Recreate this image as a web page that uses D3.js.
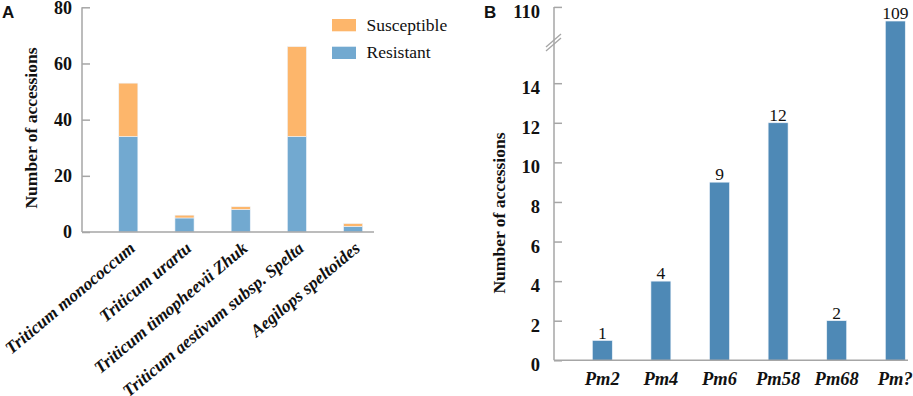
<!DOCTYPE html>
<html>
<head>
<meta charset="utf-8">
<script src="https://cdn.jsdelivr.net/npm/d3@7"></script>
<style>
  body { margin: 0; background: #fff; }
  svg { display: block; }
  text { font-family: "Liberation Serif", "Times New Roman", serif; fill: #111; }
</style>
</head>
<body>
<div id="chart"></div>
<script>
// Panel A data : accessions per species, stacked resistant / susceptible
const species = ["Triticum monococcum", "Triticum urartu", "Triticum timopheevii Zhuk",
                 "Triticum aestivum subsp. Spelta", "Aegilops speltoides"];
const resistant = [34, 5, 8, 34, 2];
const susceptible = [19, 1, 1, 32, 1];
const ticksA = [0, 20, 40, 60, 80];

// Panel B data : accessions per Pm gene
const genes = ["Pm2", "Pm4", "Pm6", "Pm58", "Pm68", "Pm?"];
const counts = [1, 4, 9, 12, 2, 109];
const ticksLowB = [0, 2, 4, 6, 8, 10, 12, 14];
const ticksHighB = [110];

const W = 913, H = 396;
const axisColor = "#a6a6a6";
const colRes = "#72a9d0", colSus = "#fdb66b", colB = "#4e89b6";

const svg = d3.select("#chart").append("svg")
    .attr("width", W).attr("height", H);

// ---------- Panel A ----------
const gA = svg.append("g");
const yA = d3.scaleLinear().domain([0, 80]).range([232, 7.3]);
const xA = d3.scaleBand().domain(species).range([100.2, 381.2])
    .paddingInner(0.66).paddingOuter(0.33);

// stacked bars
const stackData = species.map((s, i) => ({ name: s, Resistant: resistant[i], Susceptible: susceptible[i] }));
const series = d3.stack().keys(["Resistant", "Susceptible"])(stackData);
const colA = { Resistant: colRes, Susceptible: colSus };

series.forEach(sr => {
    gA.selectAll(null).data(sr).enter().append("rect")
        .attr("x", d => xA(d.data.name))
        .attr("width", xA.bandwidth())
        .attr("y", d => yA(d[1]))
        .attr("height", d => yA(d[0]) - yA(d[1]))
        .attr("fill", colA[sr.key])
        .attr("stroke", "#eef4fa")
        .attr("stroke-width", 0.6);
});

// y axis (ticks inward)
const axA = gA.append("g").attr("transform", "translate(82,0)")
    .call(d3.axisRight(yA).tickValues(ticksA).tickSize(8).tickFormat(""));
axA.select(".domain").remove();
axA.selectAll("line").attr("stroke", axisColor).attr("stroke-width", 1.5);
gA.append("line").attr("x1", 82).attr("x2", 82).attr("y1", yA(80)).attr("y2", yA(0))
    .attr("stroke", axisColor).attr("stroke-width", 1.5);
gA.append("line").attr("x1", 82).attr("x2", 374).attr("y1", yA(0)).attr("y2", yA(0))
    .attr("stroke", axisColor).attr("stroke-width", 1.5);

gA.selectAll(".tlA").data(ticksA).enter().append("text")
    .attr("x", 72).attr("y", d => yA(d)).attr("dy", "0.36em")
    .attr("text-anchor", "end").attr("font-size", 18).attr("font-weight", "bold")
    .text(d => d);

// x labels, rotated
gA.selectAll(".xlA").data(species).enter().append("text")
    .attr("transform", d => `translate(${xA(d) + xA.bandwidth() / 2 + 8},250) rotate(-40)`)
    .attr("text-anchor", "end").attr("font-size", 17.5)
    .attr("font-weight", "bold").attr("font-style", "italic")
    .text(d => d);

gA.append("text")
    .attr("transform", "translate(37,128) rotate(-90)")
    .attr("text-anchor", "middle").attr("font-size", 17.5).attr("font-weight", "bold")
    .text("Number of accessions");

// legend
const legKeys = ["Susceptible", "Resistant"];
const leg = gA.selectAll(".leg").data(legKeys).enter().append("g")
    .attr("transform", (d, i) => `translate(332,${19 + i * 27.7})`);
leg.append("rect").attr("width", 24).attr("height", 12.3)
    .attr("fill", d => colA[d]);
leg.append("text").attr("x", 34.5).attr("y", 11.5).attr("font-size", 17.5).text(d => d);

svg.append("text").attr("x", 2).attr("y", 18)
    .style("font-family", "'Liberation Sans', Arial, sans-serif")
    .attr("font-size", 17).attr("font-weight", "bold").text("A");

// ---------- Panel B ----------
const gB = svg.append("g");
const yLow = d3.scaleLinear().domain([0, 14]).range([360.3, 83.2]);
const yHigh = d3.scaleLinear().domain([107, 110]).range([49.3, 6.9]);
const yB = v => v > 15 ? yHigh(v) : yLow(v);
const xB = d3.scaleBand().domain(genes).range([573, 924.6])
    .paddingInner(0.66).paddingOuter(0.33);

gB.selectAll(".barB").data(genes).enter().append("rect")
    .attr("x", d => xB(d))
    .attr("width", xB.bandwidth())
    .attr("y", (d, i) => yB(counts[i]))
    .attr("height", (d, i) => yLow(0) - yB(counts[i]))
    .attr("fill", colB)
    .attr("stroke", "#eef4fa").attr("stroke-width", 0.6);

gB.selectAll(".valB").data(genes).enter().append("text")
    .attr("x", d => xB(d) + xB.bandwidth() / 2)
    .attr("y", (d, i) => yB(counts[i]) - 1.8)
    .attr("text-anchor", "middle").attr("font-size", 17.5)
    .text((d, i) => counts[i]);

// axes
const axB = gB.append("g").attr("transform", "translate(554,0)")
    .call(d3.axisRight(yLow).tickValues(ticksLowB).tickSize(8).tickFormat(""));
axB.select(".domain").remove();
axB.selectAll("line").attr("stroke", axisColor).attr("stroke-width", 1.5);
const axB2 = gB.append("g").attr("transform", "translate(554,0)")
    .call(d3.axisRight(yHigh).tickValues(ticksHighB).tickSize(8).tickFormat(""));
axB2.select(".domain").remove();
axB2.selectAll("line").attr("stroke", axisColor).attr("stroke-width", 1.5);

gB.append("line").attr("x1", 554).attr("x2", 554).attr("y1", yHigh(110)).attr("y2", yLow(0))
    .attr("stroke", axisColor).attr("stroke-width", 1.5);
gB.append("line").attr("x1", 554).attr("x2", 908).attr("y1", yLow(0)).attr("y2", yLow(0))
    .attr("stroke", axisColor).attr("stroke-width", 1.5);

// axis break marks
[0, 4].forEach(o => {
    gB.append("line")
        .attr("x1", 546).attr("y1", 47 + o).attr("x2", 561).attr("y2", 34 + o)
        .attr("stroke", axisColor).attr("stroke-width", 1.3);
});

const tickLabelsB = ticksLowB.map(v => ({ v, y: yLow(v) }))
    .concat(ticksHighB.map(v => ({ v, y: yHigh(v) })));
gB.selectAll(".tlB").data(tickLabelsB).enter().append("text")
    .attr("x", 540).attr("y", d => d.y).attr("dy", "0.6em")
    .attr("text-anchor", "end").attr("font-size", 18.5).attr("font-weight", "bold")
    .text(d => d.v);

gB.selectAll(".xlB").data(genes).enter().append("text")
    .attr("x", d => xB(d) + xB.bandwidth() / 2).attr("y", 385)
    .attr("text-anchor", "middle").attr("font-size", 18.5)
    .attr("font-weight", "bold").attr("font-style", "italic")
    .text(d => d);

gB.append("text")
    .attr("transform", "translate(505,213) rotate(-90)")
    .attr("text-anchor", "middle").attr("font-size", 17.5).attr("font-weight", "bold")
    .text("Number of accessions");

svg.append("text").attr("x", 484).attr("y", 18)
    .style("font-family", "'Liberation Sans', Arial, sans-serif")
    .attr("font-size", 17).attr("font-weight", "bold").text("B");
</script>
</body>
</html>
